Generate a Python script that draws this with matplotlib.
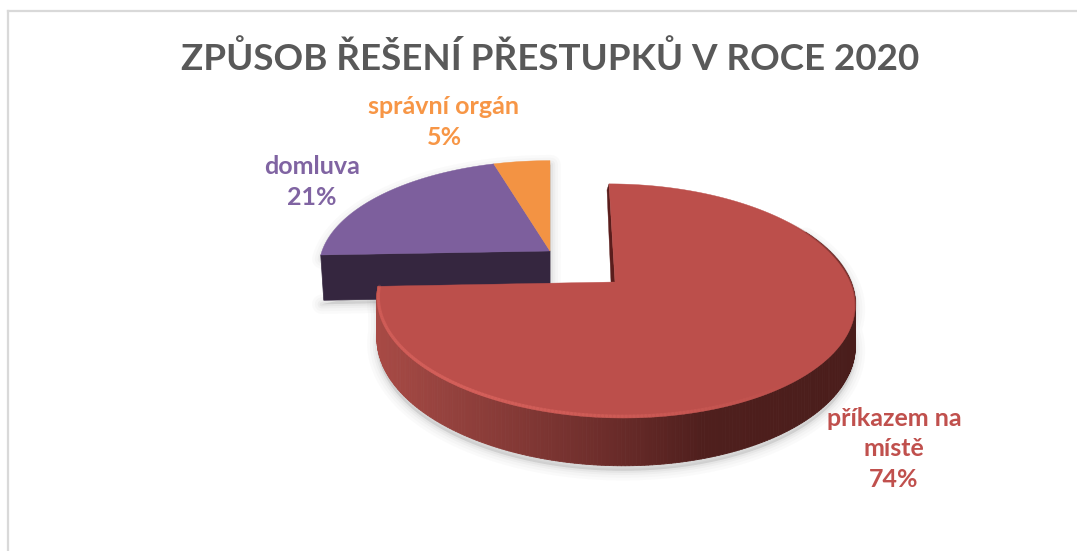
import numpy as np
import matplotlib
matplotlib.use('Agg')
import matplotlib.pyplot as plt
from matplotlib.colors import to_rgb
from matplotlib.collections import LineCollection, PolyCollection

title = 'ZPŮSOB ŘEŠENÍ PŘESTUPKŮ V ROCE 2020'
categories = ['příkazem na\nmístě', 'domluva', 'správní orgán']
values = [74.4, 21.0, 4.6]
label_colors = ['#c0504d', '#8064a2', '#f79646']
face_colors = ['#bc4f4b', '#7d5f9d', '#f39343']
purple_wall = '#35263f'

plt.rcParams['font.family'] = ['Lato', 'DejaVu Sans']

W, H = 1077, 551
fig = plt.figure(figsize=(W / 100, H / 100), dpi=100)
ax = fig.add_axes([0, 0, 1, 1])
ax.set_xlim(0, W)
ax.set_ylim(H, 0)
ax.axis('off')

# the red slice is pulled out towards the viewer, so it has its own projection
RED = dict(cx=615, cy=282, a=236, b=114, p=0.162, lean=-0.061)
BACK = dict(cx=550, cy=251, a=228, b=105, p=0.162, lean=0.0)
RED_DEPTH = 40
BACK_DEPTH = 45


def project(deg, view, drop=0.0):
    t = np.radians(deg)
    u, v = np.sin(t), np.cos(t)
    w = 1 + view['p'] * v
    y = view['b'] * v / w
    x = view['cx'] + view['a'] * u / w + view['lean'] * y
    return x, view['cy'] - y + drop / w


def soft_shadow(xs, ys, dx=1, dy=4):
    for lw, alpha in [(14, 0.03), (10, 0.04), (6, 0.06), (3, 0.08)]:
        ax.fill(xs + dx, ys + dy, color='#7f7f7f', alpha=alpha, lw=lw, joinstyle='round', zorder=1)


# slices run clockwise from 12 o'clock
edges = np.cumsum([0] + values) / sum(values) * 360
red_end = edges[1]

# frame of the chart area
ax.plot([8, 8], [H, 11], color='#d9d9d9', lw=1.6, zorder=0)
ax.plot([8, W], [11, 11], color='#d9d9d9', lw=1.6, zorder=0)

# back group: purple and orange
back_angles = np.linspace(red_end, 360, 120)
bx, by = project(back_angles, BACK)
px, py = project(back_angles, BACK, BACK_DEPTH)
outline_x = np.concatenate([[BACK['cx']], bx, [BACK['cx']]])
outline_y = np.concatenate([[BACK['cy']], by, [BACK['cy']]])
soft_shadow(np.concatenate([outline_x, [BACK['cx'], px[0]]]),
            np.concatenate([outline_y, [BACK['cy'] + BACK_DEPTH, py[0]]]))

x0, y0 = project(red_end, BACK)
x1, y1 = project(red_end, BACK, BACK_DEPTH)
ax.fill([BACK['cx'], x0, x1 + 3, BACK['cx']],
        [BACK['cy'], y0, y1, BACK['cy'] + BACK_DEPTH],
        color=purple_wall, lw=0.5, zorder=2)

for start, end, color in [(edges[1], edges[2], face_colors[1]), (edges[2], edges[3], face_colors[2])]:
    angles = np.linspace(start, end, 80)
    x, y = project(angles, BACK)
    ax.fill(np.r_[BACK['cx'], x], np.r_[BACK['cy'], y], color=color, lw=0.3, zorder=3)

# red slice
front = np.linspace(red_end, 62, 260)
tx, ty = project(front, RED)
sx, sy = project(front, RED, RED_DEPTH)
soft_shadow(np.r_[tx, sx[::-1]], np.r_[ty, sy[::-1]], dx=0, dy=5)

stops = [0.0, 0.16, 0.33, 0.5, 0.68, 1.0]
stop_colors = np.array([to_rgb(c) for c in ['#a84a45', '#93413d', '#7f3633', '#692b29', '#4f1f1d', '#4a1d1b']])
frac = (tx - tx.min()) / (tx.max() - tx.min())
strip_colors = np.column_stack([np.interp(frac, stops, stop_colors[:, i]) for i in range(3)])
strips = [[(tx[i], ty[i]), (tx[i + 1], ty[i + 1]), (sx[i + 1], sy[i + 1]), (sx[i], sy[i])]
          for i in range(len(front) - 1)]
ax.add_collection(PolyCollection(strips, facecolors=strip_colors[:-1], edgecolors=strip_colors[:-1],
                                 linewidths=0.6, zorder=4))

# sliver of the cut wall on the 12 o'clock side
rx, ry = project(0, RED)
ax.fill([rx, RED['cx'], RED['cx'] - 4, rx - 2], [ry, RED['cy'], RED['cy'], ry + 6],
        color='#5a1d1c', lw=0.3, zorder=4)

angles = np.linspace(0, red_end, 300)
x, y = project(angles, RED)
ax.fill(np.r_[RED['cx'], x], np.r_[RED['cy'], y], color=face_colors[0], lw=0.3, zorder=5)

# bevel along the rim
bevel = np.linspace(red_end, 140, 160)
hx, hy = project(bevel, dict(RED, a=RED['a'] - 1.5, b=RED['b'] - 1.5))
segs = [[(hx[i], hy[i]), (hx[i + 1], hy[i + 1])] for i in range(len(bevel) - 1)]
fade = np.interp(bevel[:-1], [140, 180, 215, red_end], [0.0, 0.3, 0.5, 0.2])
base = np.array(to_rgb('#dd6660'))
ax.add_collection(LineCollection(segs, colors=[(*base, f) for f in fade], linewidths=2.4,
                                 capstyle='round', zorder=6))

dark = np.linspace(110, 55, 60)
hx, hy = project(dark, RED)
segs = [[(hx[i], hy[i]), (hx[i + 1], hy[i + 1])] for i in range(len(dark) - 1)]
fade = np.interp(dark[:-1], [55, 80, 110], [0.0, 0.6, 0.0])
base = np.array(to_rgb('#5a2220'))
ax.add_collection(LineCollection(segs, colors=[(*base, f) for f in fade], linewidths=1.4, zorder=6))

# texts
ax.text(550, 59, title, color='#595959', fontsize=26.5, fontweight='bold', ha='center', va='center', zorder=7)
label_spots = [(894, 449), (312, 182), (444, 122)]
for name, value, color, (lx, ly) in zip(categories, values, label_colors, label_spots):
    ax.text(lx, ly, f'{name}\n{value:.0f}%', color=color, fontsize=18, fontweight='bold',
            ha='center', va='center', linespacing=1.38, zorder=7)

fig.savefig('out.png', dpi=100)
